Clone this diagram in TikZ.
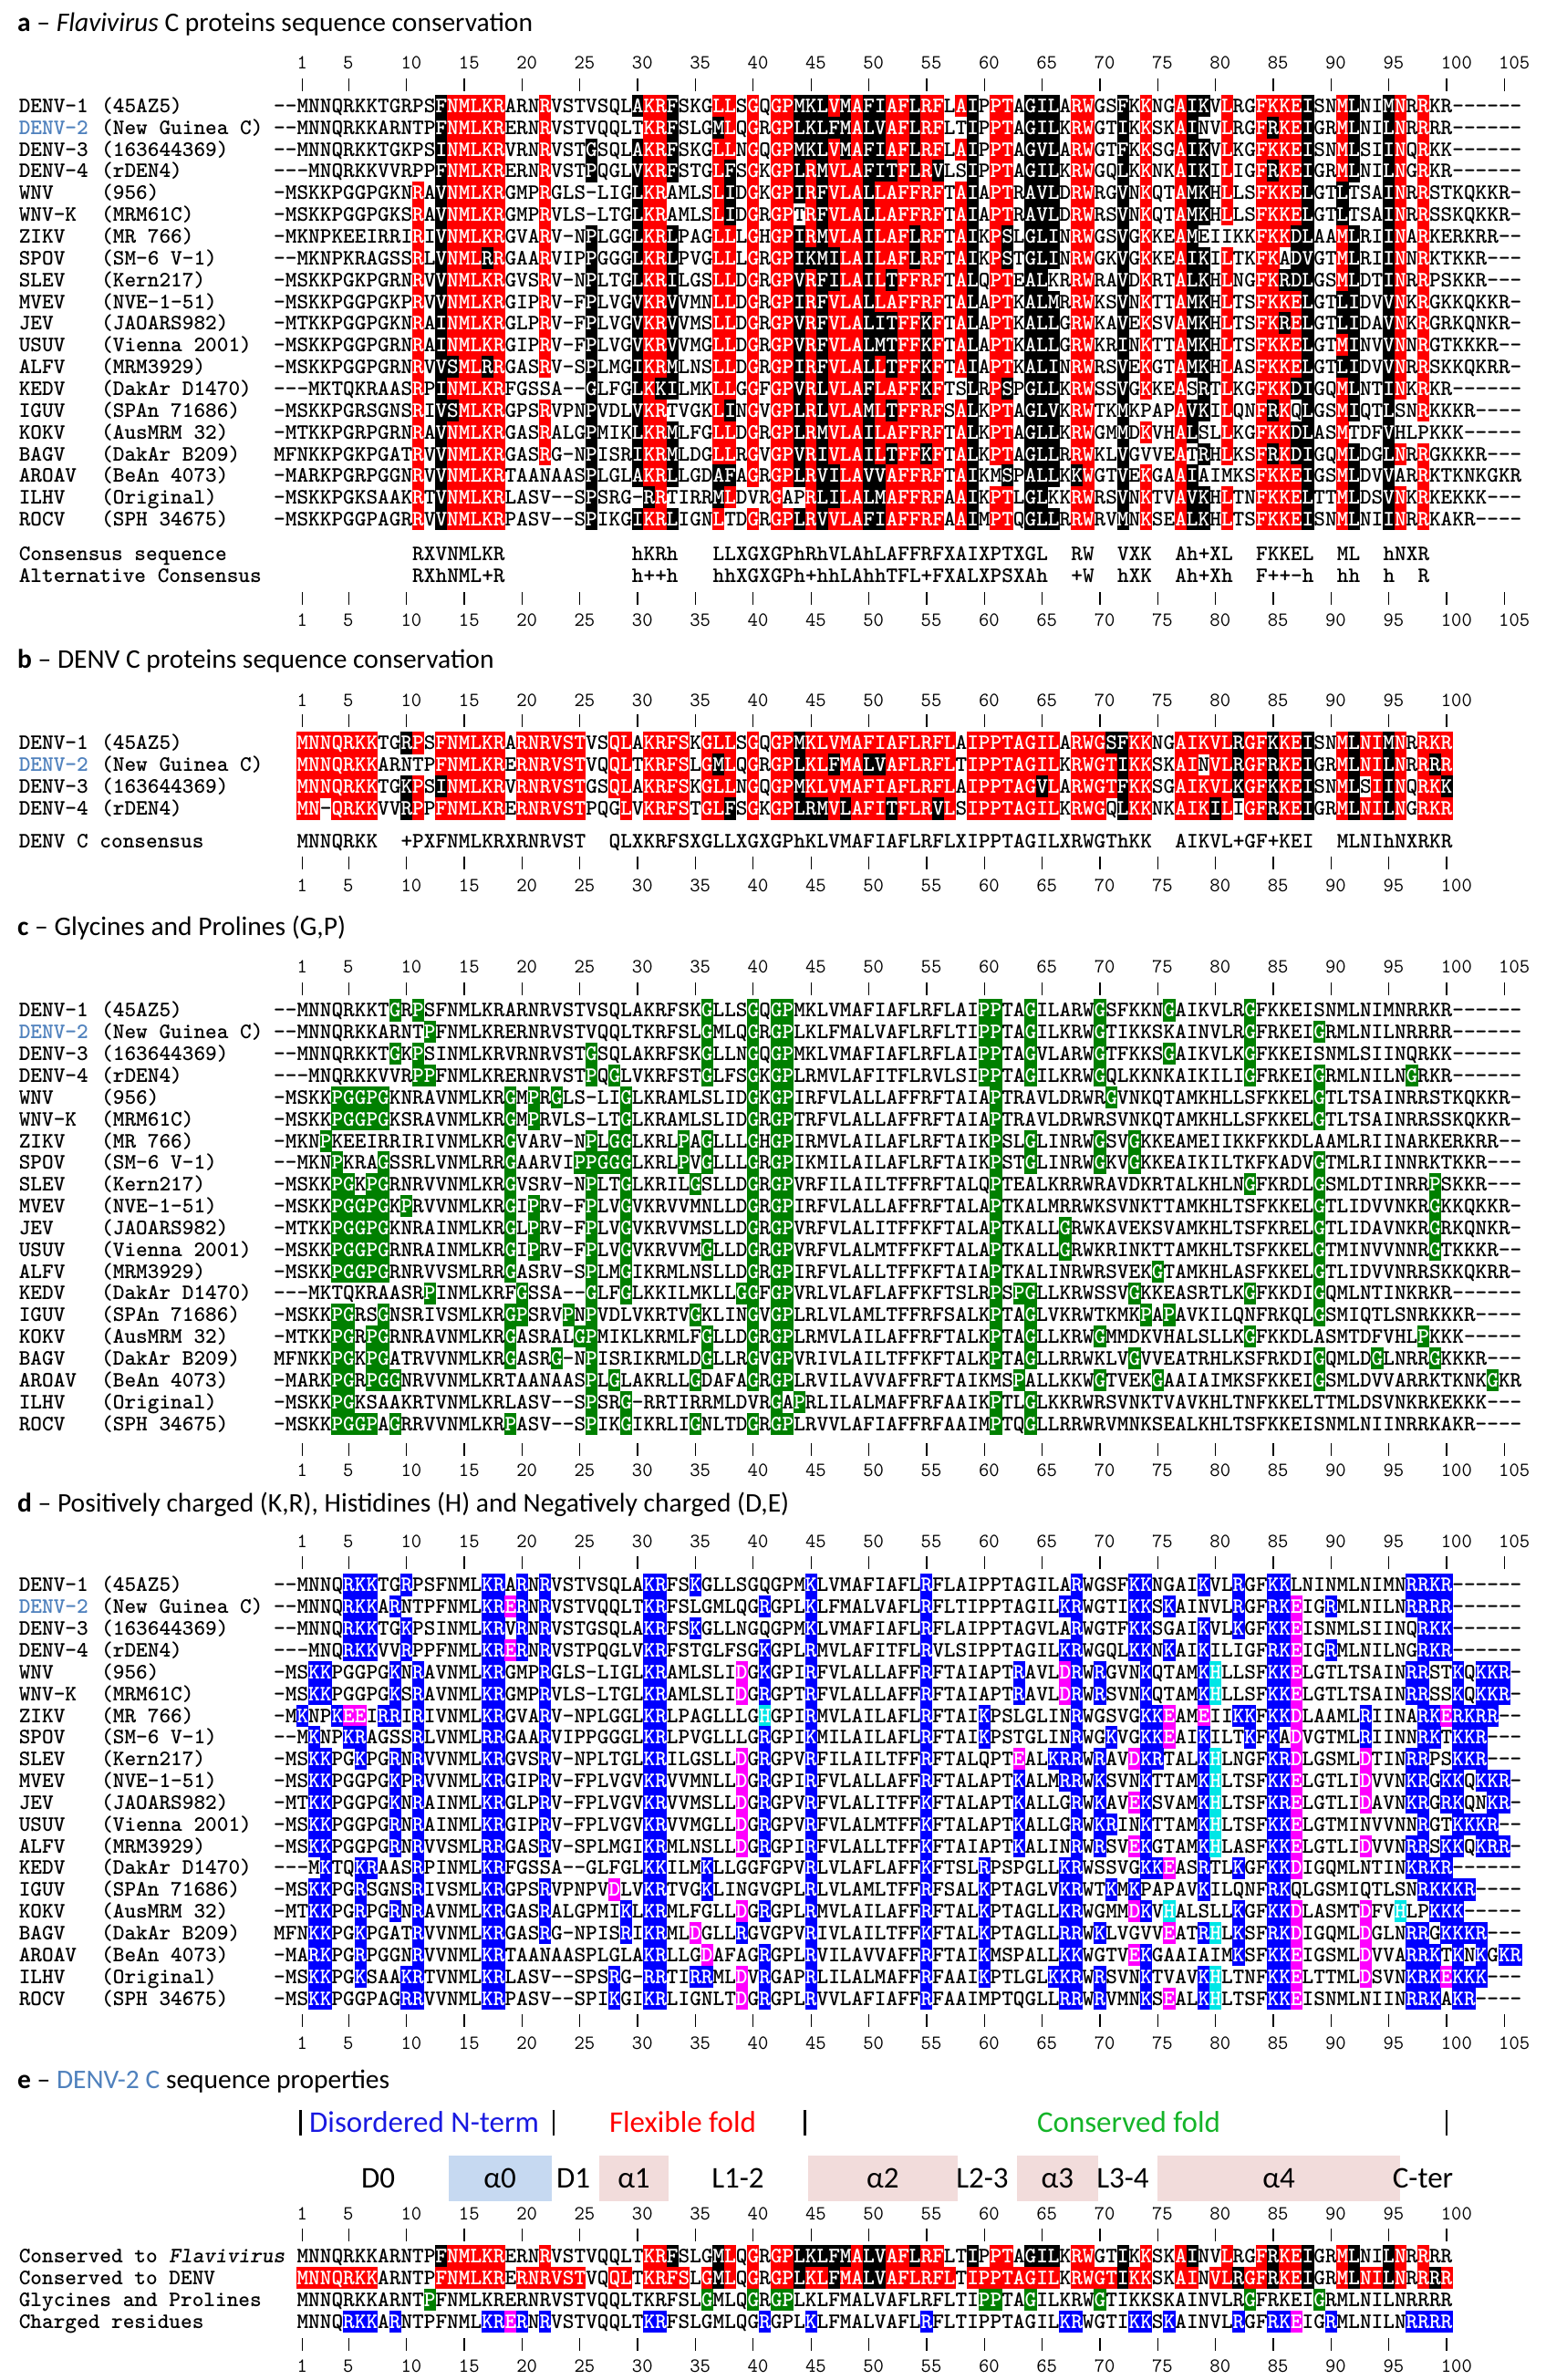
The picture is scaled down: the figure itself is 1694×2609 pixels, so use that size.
\documentclass[tikz,border=0pt]{standalone}
\usepackage{fontspec}
\setmainfont{Carlito}

\definecolor{idred}{RGB}{255,0,0}
\definecolor{gpgreen}{RGB}{0,128,0}
\definecolor{posblue}{RGB}{0,0,255}
\definecolor{negmag}{RGB}{255,0,255}
\definecolor{hiscyan}{RGB}{0,230,230}
\definecolor{denvblue}{RGB}{79,129,189}
\definecolor{helixpink}{RGB}{242,220,219}
\definecolor{helixblue}{RGB}{198,217,241}
\definecolor{foldgreen}{RGB}{20,180,40}
\definecolor{ntermblue}{RGB}{25,25,225}

\newcommand\alnfont{\ttfamily\bfseries\fontsize{24.13}{28}\selectfont}
\newcommand\numfont{\ttfamily\fontsize{22}{26}\selectfont}

\tikzset{
  seqtext/.style={anchor=base west,inner sep=0pt,font=\alnfont},
  rowlabel/.style={anchor=base west,inner sep=0pt,font=\alnfont},
  rulenum/.style={anchor=base west,inner sep=0pt,font=\numfont},
  paneltitle/.style={anchor=west,inner sep=0pt,font=\fontsize{29.5}{33}\selectfont},
  domainlab/.style={inner sep=0pt,font=\fontsize{33}{38}\selectfont},
}

% sequences, alignment columns 1-108
\newcommand\sqDa{--MNNQRKKTGRPSFNMLKRARNRVSTVSQLAKRFSKGLLSGQGPMKLVMAFIAFLRFLAIPPTAGILARWGSFKKNGAIKVLRGFKKEISNMLNIMNRRKR------}
\newcommand\sqDaalt{--MNNQRKKTGRPSFNMLKRARNRVSTVSQLAKRFSKGLLSGQGPMKLVMAFIAFLRFLAIPPTAGILARWGSFKKNGAIKVLRGFKKLNINMLNIMNRRKR------}
\newcommand\sqDb{--MNNQRKKARNTPFNMLKRERNRVSTVQQLTKRFSLGMLQGRGPLKLFMALVAFLRFLTIPPTAGILKRWGTIKKSKAINVLRGFRKEIGRMLNILNRRRR------}
\newcommand\sqDc{--MNNQRKKTGKPSINMLKRVRNRVSTGSQLAKRFSKGLLNGQGPMKLVMAFIAFLRFLAIPPTAGVLARWGTFKKSGAIKVLKGFKKEISNMLSIINQRKK------}
\newcommand\sqDd{---MNQRKKVVRPPFNMLKRERNRVSTPQGLVKRFSTGLFSGKGPLRMVLAFITFLRVLSIPPTAGILKRWGQLKKNKAIKILIGFRKEIGRMLNILNGRKR------}
\newcommand\sqWNV{-MSKKPGGPGKNRAVNMLKRGMPRGLS-LIGLKRAMLSLIDGKGPIRFVLALLAFFRFTAIAPTRAVLDRWRGVNKQTAMKHLLSFKKELGTLTSAINRRSTKQKKR-}
\newcommand\sqWNVK{-MSKKPGGPGKSRAVNMLKRGMPRVLS-LTGLKRAMLSLIDGRGPTRFVLALLAFFRFTAIAPTRAVLDRWRSVNKQTAMKHLLSFKKELGTLTSAINRRSSKQKKR-}
\newcommand\sqZIKV{-MKNPKEEIRRIRIVNMLKRGVARV-NPLGGLKRLPAGLLLGHGPIRMVLAILAFLRFTAIKPSLGLINRWGSVGKKEAMEIIKKFKKDLAAMLRIINARKERKRR--}
\newcommand\sqSPOV{--MKNPKRAGSSRLVNMLRRGAARVIPPGGGLKRLPVGLLLGRGPIKMILAILAFLRFTAIKPSTGLINRWGKVGKKEAIKILTKFKADVGTMLRIINNRKTKKR---}
\newcommand\sqSLEV{-MSKKPGKPGRNRVVNMLKRGVSRV-NPLTGLKRILGSLLDGRGPVRFILAILTFFRFTALQPTEALKRRWRAVDKRTALKHLNGFKRDLGSMLDTINRRPSKKR---}
\newcommand\sqMVEV{-MSKKPGGPGKPRVVNMLKRGIPRV-FPLVGVKRVVMNLLDGRGPIRFVLALLAFFRFTALAPTKALMRRWKSVNKTTAMKHLTSFKKELGTLIDVVNKRGKKQKKR-}
\newcommand\sqJEV{-MTKKPGGPGKNRAINMLKRGLPRV-FPLVGVKRVVMSLLDGRGPVRFVLALITFFKFTALAPTKALLGRWKAVEKSVAMKHLTSFKRELGTLIDAVNKRGRKQNKR-}
\newcommand\sqUSUV{-MSKKPGGPGRNRAINMLKRGIPRV-FPLVGVKRVVMGLLDGRGPVRFVLALMTFFKFTALAPTKALLGRWKRINKTTAMKHLTSFKKELGTMINVVNNRGTKKKR--}
\newcommand\sqALFV{-MSKKPGGPGRNRVVSMLRRGASRV-SPLMGIKRMLNSLLDGRGPIRFVLALLTFFKFTAIAPTKALINRWRSVEKGTAMKHLASFKKELGTLIDVVNRRSKKQKRR-}
\newcommand\sqKEDV{---MKTQKRAASRPINMLKRFGSSA--GLFGLKKILMKLLGGFGPVRLVLAFLAFFKFTSLRPSPGLLKRWSSVGKKEASRTLKGFKKDIGQMLNTINKRKR------}
\newcommand\sqIGUV{-MSKKPGRSGNSRIVSMLKRGPSRVPNPVDLVKRTVGKLINGVGPLRLVLAMLTFFRFSALKPTAGLVKRWTKMKPAPAVKILQNFRKQLGSMIQTLSNRKKKR----}
\newcommand\sqKOKV{-MTKKPGRPGRNRAVNMLKRGASRALGPMIKLKRMLFGLLDGRGPLRMVLAILAFFRFTALKPTAGLLKRWGMMDKVHALSLLKGFKKDLASMTDFVHLPKKK-----}
\newcommand\sqBAGV{MFNKKPGKPGATRVVNMLKRGASRG-NPISRIKRMLDGLLRGVGPVRIVLAILTFFKFTALKPTAGLLRRWKLVGVVEATRHLKSFRKDIGQMLDGLNRRGKKKR---}
\newcommand\sqAROAV{-MARKPGRPGGNRVVNMLKRTAANAASPLGLAKRLLGDAFAGRGPLRVILAVVAFFRFTAIKMSPALLKKWGTVEKGAAIAIMKSFKKEIGSMLDVVARRKTKNKGKR}
\newcommand\sqILHV{-MSKKPGKSAAKRTVNMLKRLASV--SPSRG-RRTIRRMLDVRGAPRLILALMAFFRFAAIKPTLGLKKRWRSVNKTVAVKHLTNFKKELTTMLDSVNKRKEKKK---}
\newcommand\sqROCV{-MSKKPGGPAGRRVVNMLKRPASV--SPIKGIKRLIGNLTDGRGPLRVVLAFIAFFRFAAIMPTQGLLRRWRVMNKSEALKHLTSFKKEISNMLNIINRRKAKR----}
% DENV only, residues 1-100
\newcommand\sqDab{MNNQRKKTGRPSFNMLKRARNRVSTVSQLAKRFSKGLLSGQGPMKLVMAFIAFLRFLAIPPTAGILARWGSFKKNGAIKVLRGFKKEISNMLNIMNRRKR}
\newcommand\sqDbb{MNNQRKKARNTPFNMLKRERNRVSTVQQLTKRFSLGMLQGRGPLKLFMALVAFLRFLTIPPTAGILKRWGTIKKSKAINVLRGFRKEIGRMLNILNRRRR}
\newcommand\sqDcb{MNNQRKKTGKPSINMLKRVRNRVSTGSQLAKRFSKGLLNGQGPMKLVMAFIAFLRFLAIPPTAGVLARWGTFKKSGAIKVLKGFKKEISNMLSIINQRKK}
\newcommand\sqDdb{MN-QRKKVVRPPFNMLKRERNRVSTPQGLVKRFSTGLFSGKGPLRMVLAFITFLRVLSIPPTAGILKRWGQLKKNKAIKILIGFRKEIGRMLNILNGRKR}

% one shaded residue inside a row: colour, letter
\newcommand\alnhl[2]{\rlap{\kern-0.2pt\textcolor{#1}{\rule[-4.7pt]{13.07pt}{24.15pt}}}\textcolor{white}{#2}}
% a whole row: name, x left, baseline, letters
\newcommand\seqrun[4]{\node[seqtext] (#1) at (#2,#3) {#4};}

\ExplSyntaxOn
\seq_new:N \g_aln_speca_seq
\seq_new:N \g_aln_specb_seq
\str_new:N \l_aln_seq_str
\tl_new:N \l_aln_txt_tl
\tl_new:N \l_aln_run_tl
\tl_new:N \l_aln_red_tl
\tl_new:N \l_aln_blk_tl
\tl_new:N \l_aln_col_tl
\tl_new:N \l_aln_res_tl
\tl_new:N \l_aln_item_tl
% red/black residues per column, Flavivirus alignment
\seq_gset_from_clist:Nn \g_aln_speca_seq
  {
    /,/,/,/,/,/,/,/,/,/,
    /,/,R/,/,/FIVLMAT,N/S,M/,L/,K/R,R/,
    /,/,/,R/,/,/,/,/PG,/,/,
    /,/AVLIMF,K/R,R/K,/FMVLI,/,/,/,L/AVIMF,L/AVIMF,
    /,G/,/,G/,P/,/AVLIMF,R/K,/AVLIMF,V/ILMF,L/IMVF,
    A/,/AVLIMF,L/IMVF,A/T,F/,F/L,R/K,F/VLI,/,A/,
    /ILVM,/,P/,T/S,/,/GA,/LIVM,/LIVM,/,R/K,
    W/,/,/,/VILMF,/,K/R,/,/,A/,/AVLIMF,
    /KR,/,L/,/,/,F/,K/R,K/R,E/D,/LIMV,
    /,/,M/LIV,/LIMV,/,/,/AVLIMF,N/,/,R/,
    /,/,/,/,/,/,/,/
  }
% red/black residues per position, DENV alignment
\seq_gset_from_clist:Nn \g_aln_specb_seq
  {
    M/,N/,N/,Q/,R/,K/,K/,/,/,/RK,
    P/,/,F/I,N/,M/,L/,K/,R/,/,R/,
    N/,R/,V/,S/,T/,/,/,Q/,L/,/,
    K/,R/,F/,S/,/,G/,L/M,L/F,/,G/,
    /,G/,P/,/LM,K/R,L/M,V/F,M/L,A/,F/L,
    I/V,A/T,F/,L/,R/,F/V,L/,/,I/,P/,
    P/,T/,A/,G/,I/V,L/,/,R/,W/,G/,
    T/S,/FIL,K/,K/,/,/,A/,I/,K/,V/I,
    L/,/RK,G/,F/,/KR,K/,E/,/I,/,/,
    M/,/L,N/,I/,/LMI,N/,/,R/,K/R,R/K
  }
\cs_new_protected:Npn \aln_split:w #1/#2/#3 \q_stop
  { \tl_set:Nn \l_aln_red_tl {#1} \tl_set:Nn \l_aln_blk_tl {#2} }
\cs_new_protected:Npn \aln_spec:Nn #1#2
  {
    \tl_set:Nx \l_aln_item_tl { \seq_item:Nn #1 {#2} }
    \exp_after:wN \aln_split:w \l_aln_item_tl // \q_stop
    \exp_args:NVV \str_if_in:nnTF \l_aln_red_tl \l_aln_res_tl
      { \tl_set:Nn \l_aln_col_tl {idred} }
      {
        \exp_args:NVV \str_if_in:nnT \l_aln_blk_tl \l_aln_res_tl
          { \tl_set:Nn \l_aln_col_tl {black} }
      }
  }
\cs_new_protected:Npn \aln_has:nn #1#2
  { \exp_args:NnV \str_if_in:nnT {#1} \l_aln_res_tl { \tl_set:Nn \l_aln_col_tl {#2} } }
% name, x of first cell, baseline, sequence, mode (a, b, gp, ch), column offset
\NewDocumentCommand \alnrow { m m m m m m }
  {
    \tl_set:Nx \l_aln_txt_tl {#4}
    \str_set:NV \l_aln_seq_str \l_aln_txt_tl
    \tl_clear:N \l_aln_run_tl
    \int_step_inline:nn { \str_count:N \l_aln_seq_str }
      {
        \tl_set:Nx \l_aln_res_tl { \str_item:Nn \l_aln_seq_str {##1} }
        \tl_clear:N \l_aln_col_tl
        \str_case:nn {#5}
          {
            {a} { \aln_spec:Nn \g_aln_speca_seq { ##1 + #6 } }
            {b} { \aln_spec:Nn \g_aln_specb_seq { ##1 + #6 } }
            {gp} { \aln_has:nn {GP} {gpgreen} }
            {ch} { \aln_has:nn {KR} {posblue} \aln_has:nn {DE} {negmag} \aln_has:nn {H} {hiscyan} }
          }
        \tl_if_empty:NTF \l_aln_col_tl
          {
            \tl_put_right:NV \l_aln_run_tl \l_aln_res_tl
            \str_if_eq:VnT \l_aln_res_tl { - } { \tl_put_right:Nn \l_aln_run_tl { \kern0pt } }
          }
          {
            \tl_put_right:Nx \l_aln_run_tl
              { \exp_not:N \alnhl {\l_aln_col_tl} {\l_aln_res_tl} }
          }
      }
    \use:x { \exp_not:N \seqrun {#1} {#2} {#3} { \exp_not:V \l_aln_run_tl } }
  }
\ExplSyntaxOff

% ruler: numbers left on their column, ticks centred on it
\newcommand\rulernums[3]{%
  \foreach \n in {1,5,10,...,#3}
    \node[rulenum] (#1-\n) at ({300+(\n+1)*12.67},#2) {\n};}
\newcommand\rulerticks[2]{%
  \foreach \n in {1,5,10,...,#2}
    \draw[line width=1.3pt] ({306.34+(\n+1)*12.67},#1-7) -- ++(0,14);}
\newcommand\virlabels[2]{%
  \foreach \nm/\st [count=\k] in {DENV-1/(45AZ5),{\textcolor{denvblue}{DENV-2}}/(New Guinea C),DENV-3/(163644369),DENV-4/(rDEN4),WNV/(956),WNV-K/(MRM61C),ZIKV/(MR 766),SPOV/(SM-6 V-1),SLEV/(Kern217),MVEV/(NVE-1-51),JEV/(JAOARS982),USUV/(Vienna 2001),ALFV/(MRM3929),KEDV/(DakAr D1470),IGUV/(SPAn 71686),KOKV/(AusMRM 32),BAGV/(DakAr B209),AROAV/(BeAn 4073),ILHV/(Original),ROCV/(SPH 34675)}{%
    \node[rowlabel] (#1-name\k) at (20.6,{#2+(\k-1)*23.85}) {\nm};
    \node[rowlabel] (#1-strain\k) at (111,{#2+(\k-1)*23.85}) {\st};}}

\begin{document}
\begin{tikzpicture}[x=1pt,y=-1pt]
\useasboundingbox (0,0) rectangle (1694,2609);
\fill[white] (0,0) rectangle (1694,2609);

%% a
\node[paneltitle] (ttl-a) at (19,26.7) {\textbf{a} -- \textit{Flavivirus} C proteins sequence conservation};
\rulernums{a-top}{75.4}{105}
\rulerticks{93}{105}
\virlabels{a}{123.4}
\alnrow{a1}{300}{123.4}{\sqDa}{a}{0}
\alnrow{a2}{300}{147.25}{\sqDb}{a}{0}
\alnrow{a3}{300}{171.1}{\sqDc}{a}{0}
\alnrow{a4}{300}{194.95}{\sqDd}{a}{0}
\alnrow{a5}{300}{218.8}{\sqWNV}{a}{0}
\alnrow{a6}{300}{242.65}{\sqWNVK}{a}{0}
\alnrow{a7}{300}{266.5}{\sqZIKV}{a}{0}
\alnrow{a8}{300}{290.35}{\sqSPOV}{a}{0}
\alnrow{a9}{300}{314.2}{\sqSLEV}{a}{0}
\alnrow{a10}{300}{338.05}{\sqMVEV}{a}{0}
\alnrow{a11}{300}{361.9}{\sqJEV}{a}{0}
\alnrow{a12}{300}{385.75}{\sqUSUV}{a}{0}
\alnrow{a13}{300}{409.6}{\sqALFV}{a}{0}
\alnrow{a14}{300}{433.45}{\sqKEDV}{a}{0}
\alnrow{a15}{300}{457.3}{\sqIGUV}{a}{0}
\alnrow{a16}{300}{481.15}{\sqKOKV}{a}{0}
\alnrow{a17}{300}{505}{\sqBAGV}{a}{0}
\alnrow{a18}{300}{528.85}{\sqAROAV}{a}{0}
\alnrow{a19}{300}{552.7}{\sqILHV}{a}{0}
\alnrow{a20}{300}{576.55}{\sqROCV}{a}{0}
\node[rowlabel] (cons-lab) at (20.6,614.4) {Consensus sequence};
\node[rowlabel] (cons-1) at (452.04,614.4) {RXVNMLKR};
\node[rowlabel] (cons-2) at (692.77,614.4) {hKRh};
\node[rowlabel] (cons-3) at (781.46,614.4) {LLXGXGPhRhVLAhLAFFRFXAIXPTXGL};
\node[rowlabel] (cons-4) at (1174.23,614.4) {RW};
\node[rowlabel] (cons-5) at (1224.91,614.4) {VXK};
\node[rowlabel] (cons-6) at (1288.26,614.4) {Ah+XL};
\node[rowlabel] (cons-7) at (1376.95,614.4) {FKKEL};
\node[rowlabel] (cons-8) at (1465.64,614.4) {ML};
\node[rowlabel] (cons-9) at (1516.32,614.4) {hNXR};
\node[rowlabel] (alt-lab) at (20.6,638.4) {Alternative Consensus};
\node[rowlabel] (alt-1) at (452.04,638.4) {RXhNML+R};
\node[rowlabel] (alt-2) at (692.77,638.4) {h++h};
\node[rowlabel] (alt-3) at (781.46,638.4) {hhXGXGPh+hhLAhhTFL+FXALXPSXAh};
\node[rowlabel] (alt-4) at (1174.23,638.4) {+W};
\node[rowlabel] (alt-5) at (1224.91,638.4) {hXK};
\node[rowlabel] (alt-6) at (1288.26,638.4) {Ah+Xh};
\node[rowlabel] (alt-7) at (1376.95,638.4) {F++-h};
\node[rowlabel] (alt-8) at (1465.64,638.4) {hh};
\node[rowlabel] (alt-9) at (1516.32,638.4) {h};
\node[rowlabel] (alt-10) at (1554.33,638.4) {R};
\rulerticks{656}{105}
\rulernums{a-bot}{686.4}{105}

%% b
\node[paneltitle] (ttl-b) at (19,725) {\textbf{b} -- DENV C proteins sequence conservation};
\rulernums{b-top}{774.4}{100}
\rulerticks{790}{100}
\node[rowlabel] (b-name1) at (20.6,821.9) {DENV-1};
\node[rowlabel] (b-strain1) at (111,821.9) {(45AZ5)};
\node[rowlabel,text=denvblue] (b-name2) at (20.6,845.9) {DENV-2};
\node[rowlabel] (b-strain2) at (111,845.9) {(New Guinea C)};
\node[rowlabel] (b-name3) at (20.6,869.9) {DENV-3};
\node[rowlabel] (b-strain3) at (111,869.9) {(163644369)};
\node[rowlabel] (b-name4) at (20.6,893.9) {DENV-4};
\node[rowlabel] (b-strain4) at (111,893.9) {(rDEN4)};
\alnrow{b1}{325.34}{821.9}{\sqDab}{b}{0}
\alnrow{b2}{325.34}{845.9}{\sqDbb}{b}{0}
\alnrow{b3}{325.34}{869.9}{\sqDcb}{b}{0}
\alnrow{b4}{325.34}{893.9}{\sqDdb}{b}{0}
\node[rowlabel] (bcons-lab) at (20.6,929.4) {DENV C consensus};
\node[rowlabel] (bcons-1) at (325.34,929.4) {MNNQRKK};
\node[rowlabel] (bcons-2) at (439.37,929.4) {+PXFNMLKRXRNRVST};
\node[rowlabel] (bcons-3) at (667.43,929.4) {QLXKRFSXGLLXGXGPhKLVMAFIAFLRFLXIPPTAGILXRWGThKK};
\node[rowlabel] (bcons-4) at (1288.26,929.4) {AIKVL+GF+KEI};
\node[rowlabel] (bcons-5) at (1465.64,929.4) {MLNIhNXRKR};
\rulerticks{946}{100}
\rulernums{b-bot}{977.4}{100}

%% c
\node[paneltitle] (ttl-c) at (19,1017.5) {\textbf{c} -- Glycines and Prolines (G,P)};
\rulernums{c-top}{1066.9}{105}
\rulerticks{1084}{105}
\virlabels{c}{1114.9}
\alnrow{c1}{300}{1114.9}{\sqDa}{gp}{0}
\alnrow{c2}{300}{1138.75}{\sqDb}{gp}{0}
\alnrow{c3}{300}{1162.6}{\sqDc}{gp}{0}
\alnrow{c4}{300}{1186.45}{\sqDd}{gp}{0}
\alnrow{c5}{300}{1210.3}{\sqWNV}{gp}{0}
\alnrow{c6}{300}{1234.15}{\sqWNVK}{gp}{0}
\alnrow{c7}{300}{1258}{\sqZIKV}{gp}{0}
\alnrow{c8}{300}{1281.85}{\sqSPOV}{gp}{0}
\alnrow{c9}{300}{1305.7}{\sqSLEV}{gp}{0}
\alnrow{c10}{300}{1329.55}{\sqMVEV}{gp}{0}
\alnrow{c11}{300}{1353.4}{\sqJEV}{gp}{0}
\alnrow{c12}{300}{1377.25}{\sqUSUV}{gp}{0}
\alnrow{c13}{300}{1401.1}{\sqALFV}{gp}{0}
\alnrow{c14}{300}{1424.95}{\sqKEDV}{gp}{0}
\alnrow{c15}{300}{1448.8}{\sqIGUV}{gp}{0}
\alnrow{c16}{300}{1472.65}{\sqKOKV}{gp}{0}
\alnrow{c17}{300}{1496.5}{\sqBAGV}{gp}{0}
\alnrow{c18}{300}{1520.35}{\sqAROAV}{gp}{0}
\alnrow{c19}{300}{1544.2}{\sqILHV}{gp}{0}
\alnrow{c20}{300}{1568.05}{\sqROCV}{gp}{0}
\rulerticks{1589}{105}
\rulernums{c-bot}{1618.4}{105}

%% d
\node[paneltitle] (ttl-d) at (19,1649.4) {\textbf{d} -- Positively charged (K,R), Histidines (H) and Negatively charged (D,E)};
\rulernums{d-top}{1696.4}{105}
\rulerticks{1713}{105}
\virlabels{d}{1744.9}
\alnrow{d1}{300}{1744.9}{\sqDaalt}{ch}{0}
\alnrow{d2}{300}{1768.75}{\sqDb}{ch}{0}
\alnrow{d3}{300}{1792.6}{\sqDc}{ch}{0}
\alnrow{d4}{300}{1816.45}{\sqDd}{ch}{0}
\alnrow{d5}{300}{1840.3}{\sqWNV}{ch}{0}
\alnrow{d6}{300}{1864.15}{\sqWNVK}{ch}{0}
\alnrow{d7}{300}{1888}{\sqZIKV}{ch}{0}
\alnrow{d8}{300}{1911.85}{\sqSPOV}{ch}{0}
\alnrow{d9}{300}{1935.7}{\sqSLEV}{ch}{0}
\alnrow{d10}{300}{1959.55}{\sqMVEV}{ch}{0}
\alnrow{d11}{300}{1983.4}{\sqJEV}{ch}{0}
\alnrow{d12}{300}{2007.25}{\sqUSUV}{ch}{0}
\alnrow{d13}{300}{2031.1}{\sqALFV}{ch}{0}
\alnrow{d14}{300}{2054.95}{\sqKEDV}{ch}{0}
\alnrow{d15}{300}{2078.8}{\sqIGUV}{ch}{0}
\alnrow{d16}{300}{2102.65}{\sqKOKV}{ch}{0}
\alnrow{d17}{300}{2126.5}{\sqBAGV}{ch}{0}
\alnrow{d18}{300}{2150.35}{\sqAROAV}{ch}{0}
\alnrow{d19}{300}{2174.2}{\sqILHV}{ch}{0}
\alnrow{d20}{300}{2198.05}{\sqROCV}{ch}{0}
\rulerticks{2215}{105}
\rulernums{d-bot}{2246.4}{105}

%% e
\node[paneltitle] (ttl-e) at (19,2281.7) {\textbf{e} -- \textcolor{denvblue}{DENV-2 C} sequence properties};
\draw[line width=2.5pt] (329.5,2313) -- (329.5,2341);
\node[domainlab,text=ntermblue] (nterm) at (465,2326) {Disordered N-term};
\draw[line width=2.5pt] (607,2313) -- (607,2341);
\node[domainlab,text=idred] (flexfold) at (748.5,2326) {Flexible fold};
\draw[line width=2.5pt] (882.5,2313) -- (882.5,2341);
\node[domainlab,text=foldgreen] (consfold) at (1237.5,2326) {Conserved fold};
\draw[line width=2.5pt] (1586,2313) -- (1586,2341);
\fill[helixblue] (491.6,2363) rectangle (604.9,2413);
\fill[helixpink] (657,2363) rectangle (733,2413);
\fill[helixpink] (886,2363) rectangle (1049.7,2413);
\fill[helixpink] (1115,2363) rectangle (1203.8,2413);
\fill[helixpink] (1269,2363) rectangle (1535,2413);
\node[domainlab] (dzero) at (414.6,2388) {D0};
\node[domainlab] (hzero) at (548.2,2388) {α0};
\node[domainlab] (done) at (628.7,2388) {D1};
\node[domainlab] (hone) at (695,2388) {α1};
\node[domainlab] (lonetwo) at (809,2388) {L1-2};
\node[domainlab] (htwo) at (967.8,2388) {α2};
\node[domainlab] (ltwothree) at (1077,2388) {L2-3};
\node[domainlab] (hthree) at (1159.4,2388) {α3};
\node[domainlab] (lthreefour) at (1231,2388) {L3-4};
\node[domainlab] (hfour) at (1402,2388) {α4};
\node[domainlab] (cter) at (1560,2388) {C-ter};
\rulernums{e-top}{2433.1}{100}
\rulerticks{2450}{100}
\node[rowlabel] (e-lab1) at (20.6,2480.1) {Conserved to \textsl{Flavivirus}};
\node[rowlabel] (e-lab2) at (20.6,2504.1) {Conserved to DENV};
\node[rowlabel] (e-lab3) at (20.6,2528.4) {Glycines and Prolines};
\node[rowlabel] (e-lab4) at (20.6,2552.4) {Charged residues};
\alnrow{e1}{325.34}{2480.1}{\sqDbb}{a}{2}
\alnrow{e2}{325.34}{2504.1}{\sqDbb}{b}{0}
\alnrow{e3}{325.34}{2528.4}{\sqDbb}{gp}{0}
\alnrow{e4}{325.34}{2552.4}{\sqDbb}{ch}{0}
\rulerticks{2570}{100}
\rulernums{e-bot}{2600.4}{100}
\end{tikzpicture}
\end{document}
